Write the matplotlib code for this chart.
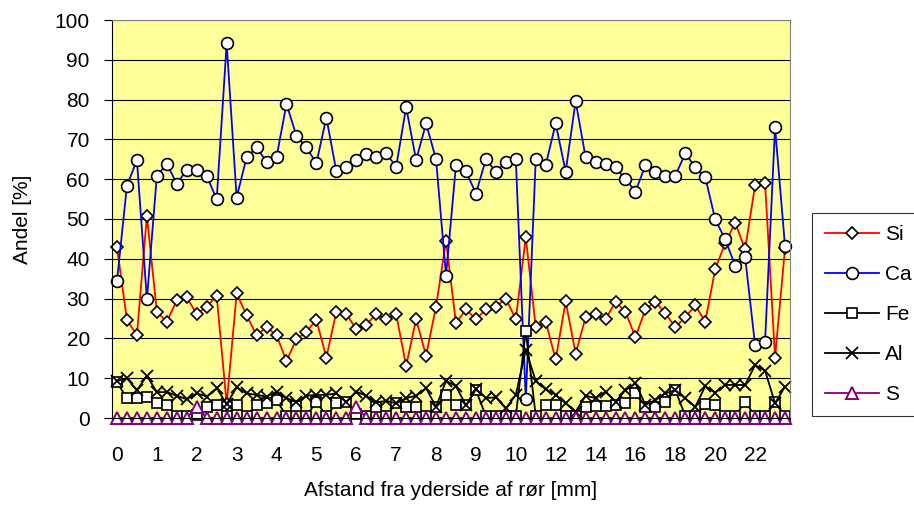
# line chart: element fractions vs distance from pipe outer side

import matplotlib.pyplot as plt
import numpy as np

plt.rcParams['font.family'] = ['Liberation Sans', 'DejaVu Sans']

# distance categories [mm]
afstand = [0, 0.25, 0.5, 0.75, 1, 1.25, 1.5, 1.75, 2, 2.25, 2.5, 2.75, 3, 3.25, 3.5, 3.75,
           4, 4.25, 4.5, 4.75, 5, 5.25, 5.5, 5.75, 6, 6.25, 6.5, 6.75, 7, 7.25, 7.5, 7.75,
           8, 8.25, 8.5, 8.75, 9, 9.25, 9.5, 9.75, 10, 10.5, 11, 11.5, 12, 12.5, 13, 13.5,
           14, 14.5, 15, 15.5, 16, 16.5, 17, 17.5, 18, 18.5, 19, 19.5, 20, 20.5, 21, 21.5,
           22, 22.5, 23, 23.5]

si = [42.9, 24.6, 20.8, 50.8, 26.7, 24.2, 29.6, 30.3, 26.1, 28.0,
      30.7, 3.5, 31.3, 25.8, 20.8, 22.8, 20.8, 14.3, 19.8, 21.7,
      24.6, 15.2, 26.7, 26.2, 22.3, 23.4, 26.1, 24.8, 26.1, 13.1,
      24.8, 15.7, 28.0, 44.5, 23.8, 27.3, 24.8, 27.3, 28.0, 30.0,
      24.8, 45.4, 22.8, 24.2, 14.7, 29.3, 16.2, 25.3, 26.1, 24.8,
      29.2, 26.7, 20.3, 27.3, 29.2, 26.3, 22.8, 25.3, 28.3, 24.2,
      37.4, 43.9, 49.1, 42.4, 58.5, 59.0, 15.2, 42.6]

ca = [34.4, 58.4, 64.8, 29.8, 60.9, 63.8, 58.9, 62.3, 62.3, 60.9,
      54.9, 94.1, 55.4, 65.5, 68.0, 64.4, 65.5, 78.9, 70.9, 68.0,
      64.0, 75.5, 62.0, 63.0, 64.8, 66.3, 65.5, 66.5, 63.1, 78.1,
      64.8, 74.0, 65.0, 35.8, 63.6, 62.0, 56.4, 65.0, 61.9, 64.4,
      65.0, 4.7, 65.0, 63.6, 74.0, 61.9, 79.6, 65.5, 64.4, 63.8,
      63.0, 60.0, 56.9, 63.5, 61.9, 60.9, 60.9, 66.5, 63.0, 60.5,
      49.9, 44.9, 38.3, 40.4, 18.3, 19.2, 73.0, 43.2]

fe = [9.0, 4.9, 4.9, 5.2, 3.7, 3.3, 0.5, 0.5, 0.8, 2.8,
      3.3, 0.5, 3.3, 0.5, 3.3, 3.7, 4.5, 0.5, 3.0, 0.5,
      4.1, 0.5, 3.7, 4.1, 1.0, 0.5, 2.8, 0.5, 3.7, 2.8,
      2.8, 0.5, 2.8, 5.8, 3.3, 3.3, 7.0, 0.5, 0.5, 0.5,
      0.5, 21.9, 0.5, 3.3, 3.3, 0.5, 0.5, 2.8, 3.1, 3.1,
      3.3, 3.7, 6.4, 2.8, 2.8, 4.1, 7.0, 0.5, 0.5, 3.4,
      3.3, 0.5, 0.5, 4.1, 0.5, 0.5, 3.9, 0.5]

al = [9.3, 10.0, 7.0, 10.6, 6.5, 6.5, 5.6, 4.7, 6.2, 5.4,
      7.5, 3.5, 7.7, 6.2, 5.8, 5.4, 6.6, 5.0, 4.0, 5.6,
      5.8, 5.8, 6.2, 4.0, 6.6, 5.6, 3.9, 4.3, 3.7, 5.0,
      5.6, 7.5, 2.8, 9.3, 8.0, 3.2, 7.2, 5.0, 5.2, 2.4,
      5.8, 17.1, 9.3, 7.2, 5.8, 3.7, 1.6, 5.6, 5.0, 6.6,
      4.1, 7.0, 8.7, 3.3, 4.5, 6.2, 7.0, 4.9, 2.8, 8.0,
      6.4, 8.3, 8.3, 8.3, 13.3, 11.9, 3.7, 7.9]

s = [0, 0, 0, 0, 0, 0, 0, 0, 2.8, 0,
     0, 0, 0, 0, 0, 0, 0, 0, 0, 0,
     0, 0, 0, 0, 2.8, 0, 0, 0, 0, 0,
     0, 0, 0, 0, 0, 0, 0, 0, 0, 0,
     0, 0, 0, 0, 0, 0, 0, 0, 0, 0,
     0, 0, 0, 0, 0, 0, 0, 0, 0, 0,
     0, 0, 0, 0, 0, 0, 0, 0]

x = np.arange(len(afstand))

fig = plt.figure(figsize=(9.14, 5.12), dpi=100)
ax = fig.add_axes([112 / 914, 1 - 418 / 512, 678 / 914, 398 / 512])
ax.set_facecolor('#FFFF99')

lw = 1.3
ax.plot(x, si, color='red', lw=lw, marker='D', ms=6.5, mfc='white', mec='black', mew=1.2,
        label='Si', clip_on=False)
ax.plot(x, ca, color='blue', lw=lw, marker='o', ms=8.5, mfc='white', mec='black', mew=1.2,
        label='Ca', clip_on=False)
ax.plot(x, fe, color='black', lw=lw, marker='s', ms=7.5, mfc='white', mec='black', mew=1.2,
        label='Fe', clip_on=False)
ax.plot(x, al, color='black', lw=lw, marker='x', ms=8, mec='black', mew=1.3,
        label='Al', clip_on=False)
ax.plot(x, s, color='#800080', lw=lw, marker='^', ms=8, mfc='white', mec='#800080', mew=1.4,
        label='S', clip_on=False)

ax.set_xlim(-0.5, len(afstand) - 0.5)
ax.set_ylim(0, 100)
ax.set_yticks(np.arange(0, 101, 10))
ax.yaxis.grid(True, color='black', lw=0.8)
ax.set_axisbelow(True)

# labels every 4th category, tick marks between categories
ax.set_xticks(x[::4])
ax.set_xticklabels([f'{d:g}' for d in afstand[::4]])
ax.set_xticks(np.arange(-0.5, len(afstand), 1), minor=True)
ax.tick_params(axis='x', which='major', length=0, pad=20, labelsize=15)
ax.tick_params(axis='x', which='minor', length=4, width=0.8)
ax.tick_params(axis='y', length=6, width=0.8, pad=10, labelsize=15)

for side in ['top', 'right']:
    ax.spines[side].set_color('#808080')
for side in ['left', 'bottom']:
    ax.spines[side].set_color('black')

ax.set_ylabel('Andel [%]', fontsize=15, labelpad=16)
ax.set_xlabel('Afstand fra yderside af rør [mm]', fontsize=15, labelpad=12)

leg = ax.legend(loc='upper left', bbox_to_anchor=(812 / 914, 1 - 213 / 512),
                bbox_transform=fig.transFigure, fontsize=15, frameon=True, fancybox=False,
                edgecolor='black', handlelength=2.6, handletextpad=0.3, labelspacing=1.0,
                borderpad=0.6, borderaxespad=0)
leg.get_frame().set_linewidth(0.8)

plt.savefig('out.png', dpi=100)
